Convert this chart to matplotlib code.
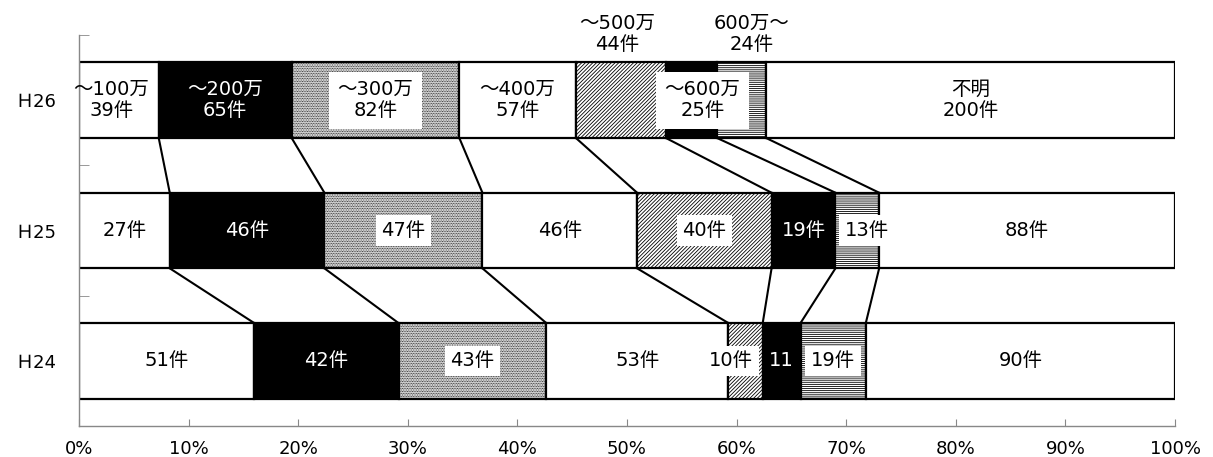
import numpy as np
import matplotlib
matplotlib.use("Agg")
import matplotlib.pyplot as plt

plt.rcParams['font.family'] = ['DejaVu Sans', 'Noto Sans CJK JP']
plt.rcParams['hatch.linewidth'] = 0.6

# 年度（下から H24, H25, H26）
years = ['Ｈ24', 'Ｈ25', 'Ｈ26']
# 所得区分
brackets = ['～100万', '～200万', '～300万', '～400万', '～500万', '～600万', '600万～', '不明']
# 件数
h24 = [51, 42, 43, 53, 10, 11, 19, 90]
h25 = [27, 46, 47, 46, 40, 19, 13, 88]
h26 = [39, 65, 82, 57, 44, 25, 24, 200]
xticklabels = ['0%', '10%', '20%', '30%', '40%', '50%', '60%', '70%', '80%', '90%', '100%']

counts = np.array([h24, h25, h26], dtype=float)
shares = counts / counts.sum(axis=1, keepdims=True) * 100
lefts = np.cumsum(shares, axis=1) - shares
centers = lefts + shares / 2

faces = ['white', 'black', 'white', 'white', 'white', 'black', 'white', 'white']
hatches = [None, None, '..........', None, '/////////', None, '--------', None]
text_colors = ['black', 'white', 'black', 'black', 'black', 'white', 'black', 'black']
boxed = [False, False, True, False, True, False, True, False]

fig = plt.figure(figsize=(12.13, 4.57), dpi=100)
ax = fig.add_axes([0.0651, 0.0678, 0.9036, 0.8556])

bar_h = 0.58
for j in range(len(brackets)):
    ax.barh(np.arange(len(years)), shares[:, j], left=lefts[:, j], height=bar_h,
            color=faces[j], edgecolor='black', linewidth=1.6, hatch=hatches[j], zorder=2)

# 年度間の区切りを結ぶ線
bounds = np.cumsum(shares, axis=1)[:, :-1]
for i in range(len(years) - 1):
    for b_lo, b_hi in zip(bounds[i], bounds[i + 1]):
        ax.plot([b_hi, b_lo], [i + 1 - bar_h / 2, i + bar_h / 2], color='black', lw=1.5, zorder=1)

fs = 14
box = dict(facecolor='white', edgecolor='none', pad=4)
bigbox = dict(facecolor='white', edgecolor='none', pad=6)

def label(x, y, s, color, bbox=None):
    ax.text(x, y, s, ha='center', va='center', fontsize=fs, color=color,
            bbox=bbox, zorder=5, linespacing=1.15, clip_on=False)

# H26: 区分名と件数
i = 2
for j in range(len(brackets)):
    name = '不明' if j == 7 else brackets[j]
    s = f'{name}\n{int(counts[i, j])}件'
    x, y, bb, col = centers[i, j], i, None, text_colors[j]
    if j == 0:
        x -= 0.7
    elif j == 2:
        bb = bigbox
    elif j == 4:
        x -= 0.3
        y = i + 0.51
    elif j == 5:
        x += 1.0
        bb = bigbox
        col = 'black'
    elif j == 6:
        x += 0.9
        y = i + 0.51
    label(x, y, s, col, bb)

# H25
i = 1
for j in range(len(brackets)):
    x = centers[i, j]
    if j == 6:
        x += 0.9
    label(x, i, f'{int(counts[i, j])}件', text_colors[j], box if boxed[j] else None)

# H24
i = 0
for j in range(len(brackets)):
    x = centers[i, j]
    s = f'{int(counts[i, j])}件'
    if j == 4:
        x -= 1.3
    if j == 5:
        s = f'{int(counts[i, j])}'
    label(x, i, s, text_colors[j], box if boxed[j] else None)

ax.set_xlim(0, 100)
ax.set_ylim(-0.5, 2.5)
ax.set_xticks(np.arange(0, 101, 10))
ax.set_xticklabels(xticklabels, fontsize=13)
ax.set_yticks(np.arange(len(years)))
ax.set_yticklabels(years, fontsize=13)
ax.set_yticks([-0.5, 0.5, 1.5, 2.5], minor=True)
ax.tick_params(axis='y', which='major', length=0, pad=16)
ax.tick_params(axis='y', which='minor', direction='in', length=7, color='#888888')
ax.tick_params(axis='x', direction='in', length=5, color='#888888', pad=10)

for side in ('top', 'right'):
    ax.spines[side].set_visible(False)
for side in ('left', 'bottom'):
    ax.spines[side].set_color('#888888')
    ax.spines[side].set_linewidth(1.0)

fig.savefig('out.png', dpi=100)
